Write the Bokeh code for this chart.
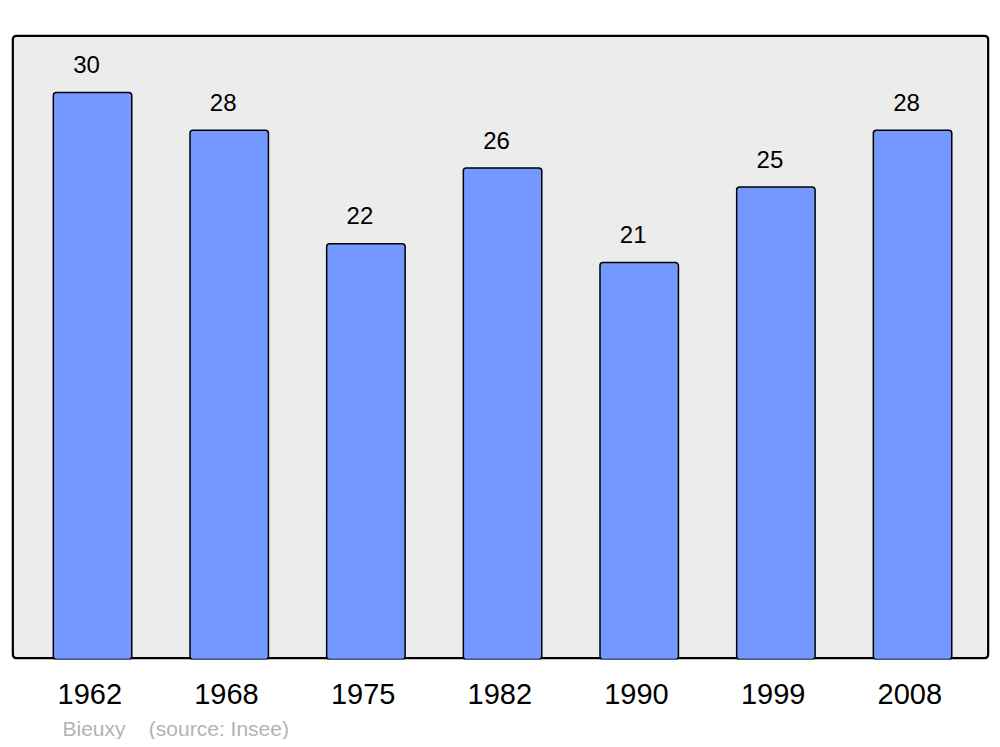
from bokeh.plotting import figure
from bokeh.models import ColumnDataSource, Range1d, FixedTicker, BoxAnnotation, Title
from bokeh.core.properties import value
from bokeh.embed import file_html
from bokeh.resources import INLINE

years = ["1962", "1968", "1975", "1982", "1990", "1999", "2008"]
population = [30, 28, 22, 26, 21, 25, 28]
footnote_place = "Bieuxy"
footnote_source = "(source: Insee)"

FONT = "Liberation Sans"
idx = list(range(len(years)))
src = ColumnDataSource(dict(x=idx, top=population, label=[str(v) for v in population]))

X0, X1, Y0, Y1 = -0.593, 6.563, 0, 33.07
p = figure(width=992, height=739, output_backend="svg", toolbar_location=None,
           x_range=Range1d(X0, X1), y_range=Range1d(Y0, Y1),
           min_border_left=11, min_border_right=3, min_border_top=34, min_border_bottom=79)
p.background_fill_color = "white"
p.border_fill_color = "white"
p.outline_line_color = None
p.grid.visible = False
p.yaxis.visible = False

dx = (X1 - X0) / 978 * 1.2
dy = (Y1 - Y0) / 626 * 1.2
frame_box = BoxAnnotation(left=X0 + dx, right=X1 - dx, bottom=Y0 + dy, top=Y1 - dy,
                          fill_color="#ececec", fill_alpha=1, line_color="black",
                          line_alpha=1, line_width=2.5, border_radius=4, level="underlay")
p.add_layout(frame_box)

p.vbar(x="x", top="top", bottom=0, width=0.574, source=src, fill_color="#7399ff",
       line_color="black", line_width=1.5, border_radius=3)
p.text(x="x", y="top", text="label", source=src, text_align="center",
       text_baseline="middle", y_offset=-28, x_offset=-6,
       text_font=value(FONT), text_font_size="24px", text_color="black")

ticks = [i - 0.02 for i in idx]
ax = p.xaxis[0]
ax.ticker = FixedTicker(ticks=ticks)
ax.major_label_overrides = {t: y for t, y in zip(ticks, years)}
ax.axis_line_color = None
ax.major_tick_line_color = None
ax.minor_tick_line_color = None
ax.major_label_text_font = FONT
ax.major_label_text_font_size = "29px"
ax.major_label_text_color = "black"
ax.major_label_standoff = 18
ax.axis_label = "\u00a0"
ax.axis_label_text_font_size = "4px"
ax.axis_label_standoff = 0

foot = Title(text=footnote_place + "\u00a0" * 4 + footnote_source, align="left",
             offset=51, standoff=0, text_font=FONT, text_font_size="21px",
             text_font_style="normal", text_color="#b3b3b3")
p.add_layout(foot, "below")

open("out.html", "w").write(file_html(p, INLINE))
